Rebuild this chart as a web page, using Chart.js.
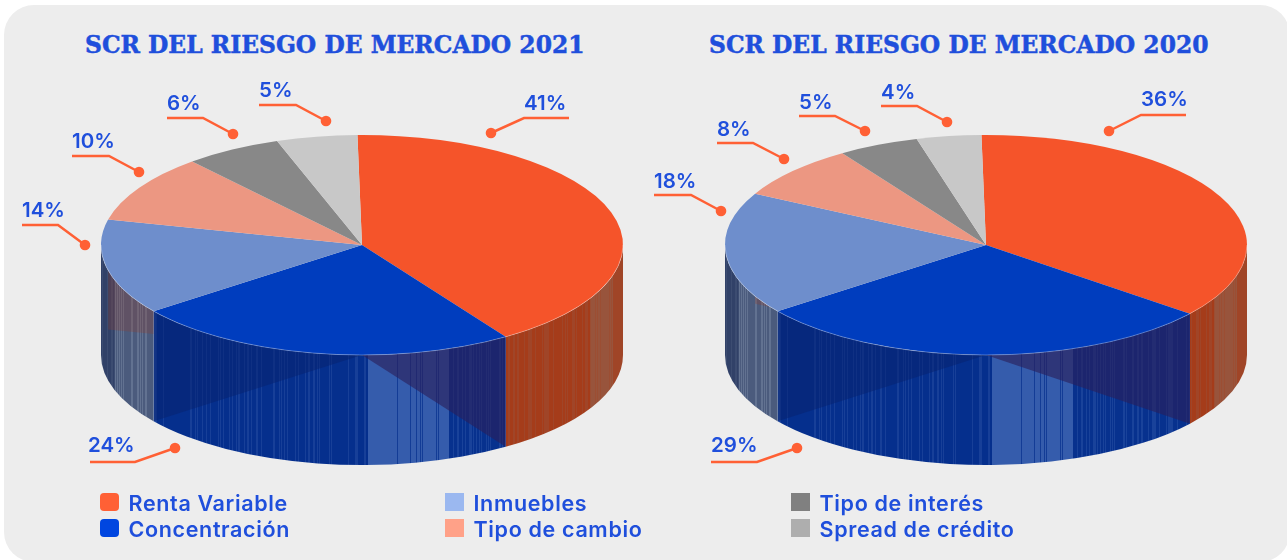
<!DOCTYPE html>
<html lang="es">
<head>
<meta charset="UTF-8">
<title>SCR del riesgo de mercado</title>
<script src="https://cdn.jsdelivr.net/npm/chart.js"></script>
<style>
  html, body { margin:0; width:1287px; height:560px; overflow:hidden; background:#fff; }
  .panel { position:absolute; left:4px; top:5px; width:1286px; height:557px; background:#ededed; border-radius:30px; }
  canvas { position:absolute; left:0; top:0; }
  h2 { position:absolute; margin:0; top:31px; color:#1f4fdc; font:bold 23.4px 'DejaVu Serif',serif; -webkit-text-stroke:0.5px #1f4fdc; white-space:nowrap; }
  .key { position:absolute; color:#1f4fdc; font:600 21.5px Inter,sans-serif; letter-spacing:0.65px; white-space:nowrap; line-height:26px; }
  .swatch { position:absolute; width:19px; height:18px; }
</style>
</head>
<body>
<div class="panel"></div>
<h2 id="title2021" style="left:85px"></h2>
<h2 id="title2020" style="left:709px"></h2>
<canvas id="pie2021" width="1287" height="560"></canvas>
<canvas id="pie2020" width="1287" height="560"></canvas>
<div id="legend"></div>
<script>
// datos
const categories = ['Renta Variable', 'Concentración', 'Inmuebles', 'Tipo de cambio', 'Tipo de interés', 'Spread de crédito'];
const values2021 = [41, 24, 14, 10, 6, 5];
const values2020 = [36, 29, 18, 8, 5, 4];
const titleText = 'SCR DEL RIESGO DE MERCADO ';

const sliceColors = ['#f5542a', '#003dbe', '#6e8ecc', '#ec9782', '#888888', '#c8c8c8'];
const legendColors = ['#ff6035', '#0046e0', '#9bb8f0', '#ffa188', '#808080', '#aeaeae'];

// colores de la pared lateral [oscuro, claro]
const wallColors = [[[166,58,24],[150,88,66]], [[4,46,140],[62,100,178]], [[44,60,100],[112,128,156]]];
// caras internas vistas a traves de la pared
const faceColors = ['rgba(42,30,90,0.62)', 'rgba(8,34,110,0.5)', 'rgba(150,60,40,0.28)'];
const faceClip = [1, 1, 2];

// etiquetas: punto, codo, fin de linea (coordenadas de pagina)
const callouts2021 = [
  {dot:[491,133], elbow:[524,118], end:569, text:524, base:110},
  {dot:[175,448], elbow:[135,462], end:90, text:88, base:452},
  {dot:[85,245], elbow:[58,225], end:22, text:22, base:217},
  {dot:[139,172], elbow:[109,156], end:72, text:72, base:148},
  {dot:[233,134], elbow:[203,118], end:167, text:167, base:110},
  {dot:[326,121], elbow:[296,105], end:259, text:259, base:97}
];
const callouts2020 = [
  {dot:[1109,131], elbow:[1141,115], end:1186, text:1141, base:106},
  {dot:[797,448], elbow:[757,462], end:711, text:711, base:452},
  {dot:[721,211], elbow:[691,195], end:654, text:654, base:188},
  {dot:[784,159], elbow:[753,143], end:717, text:717, base:136},
  {dot:[865,131], elbow:[835,116], end:799, text:799, base:109},
  {dot:[947,122], elbow:[917,106], end:881, text:881, base:99}
];

const tilt = 110 / 261;
const depth = 110;
const pieY = 245;

function mix(a, b, f) {
  f = Math.max(0, Math.min(1, f));
  return 'rgb(' + a.map((v, i) => Math.round(v + (b[i] - v) * f)).join(',') + ')';
}

// brillo del cilindro con rayas verticales finas, t va de -1 a 1
function sheen(t, k) {
  const h = Math.sin(k * 12.9898) * 43758.5453;
  const p = h - Math.floor(h);
  if (t < -0.95) return 0.08 + (p > 0.6 ? 0.15 : 0);
  if (t < -0.79) return 0.55 + (p > 0.6 ? 0.25 : -0.1);
  if (t < 0.02) return 0.02 + (p > 0.78 ? 0.3 : 0);
  if (t < 0.33) return p > 0.9 ? 0.25 : 0.85;
  if (t < 0.87) return 0.05 + (p > 0.72 ? 0.32 : 0);
  if (t < 0.96) return 0.85 + (p > 0.85 ? -0.2 : 0);
  return 0.35;
}

function wallGradient(ctx, cx, rx, pair) {
  const g = ctx.createLinearGradient(cx - rx, 0, cx + rx, 0);
  const n = Math.round(rx * 2);
  for (let k = 0; k < n; k++) {
    const c = mix(pair[0], pair[1], sheen(2 * k / n - 1, k));
    g.addColorStop(k / n, c);
    g.addColorStop((k + 1) / n, c);
  }
  return g;
}

function wallPath(ctx, cx, rx, ry, a, b) {
  ctx.beginPath();
  ctx.ellipse(cx, pieY, rx, ry, 0, a, b);
  ctx.ellipse(cx, pieY + depth, rx, ry, 0, b, a, true);
  ctx.closePath();
}

const pie3d = {
  id: 'pie3d',
  beforeDatasetsDraw(chart) {
    const ctx = chart.ctx;
    const arcs = chart.getDatasetMeta(0).data;
    const cx = arcs[0].x, rx = arcs[0].outerRadius, ry = rx * tilt;
    const range = i => [Math.max(arcs[i].startAngle, 0), Math.min(arcs[i].endAngle, Math.PI)];
    arcs.forEach((arc, i) => {
      const [a, b] = range(i);
      if (b <= a) return;
      wallPath(ctx, cx, rx, ry, a, b);
      ctx.fillStyle = wallGradient(ctx, cx, rx, wallColors[i] || wallColors[2]);
      ctx.fill();
    });
    faceColors.forEach((color, i) => {
      const ang = arcs[i].endAngle;
      const px = cx + rx * Math.cos(ang), py = pieY + ry * Math.sin(ang);
      const [a, b] = range(faceClip[i]);
      ctx.save();
      wallPath(ctx, cx, rx, ry, a, b);
      ctx.clip();
      ctx.beginPath();
      ctx.moveTo(cx, pieY);
      ctx.lineTo(px, py);
      ctx.lineTo(px, py + depth);
      ctx.lineTo(cx, pieY + depth);
      ctx.closePath();
      ctx.fillStyle = color;
      ctx.fill();
      ctx.restore();
    });
    // la tapa se aplasta en elipse
    ctx.save();
    ctx.translate(cx, pieY);
    ctx.scale(1, tilt);
    ctx.translate(-cx, -arcs[0].y);
  },
  afterDatasetsDraw(chart, args, opts) {
    const ctx = chart.ctx;
    ctx.restore();
    const arcs = chart.getDatasetMeta(0).data;
    const cx = arcs[0].x, rx = arcs[0].outerRadius;
    ctx.beginPath();
    ctx.ellipse(cx, pieY, rx, rx * tilt, 0, 0, Math.PI);
    ctx.strokeStyle = 'rgba(255,255,255,0.3)';
    ctx.lineWidth = 1;
    ctx.stroke();
    opts.callouts.forEach((c, i) => {
      ctx.beginPath();
      ctx.moveTo(c.dot[0], c.dot[1]);
      ctx.lineTo(c.elbow[0], c.elbow[1]);
      ctx.lineTo(c.end, c.elbow[1]);
      ctx.strokeStyle = '#ff6035';
      ctx.lineWidth = 2.5;
      ctx.stroke();
      ctx.beginPath();
      ctx.arc(c.dot[0], c.dot[1], 5.3, 0, Math.PI * 2);
      ctx.fillStyle = '#ff6035';
      ctx.fill();
      ctx.font = '600 20.5px Inter, sans-serif';
      ctx.fillStyle = '#1f4fdc';
      ctx.textAlign = 'left';
      ctx.fillText(chart.data.datasets[0].data[i] + '%', c.text, c.base);
    });
  }
};

function makePie(id, values, left, right, callouts) {
  return new Chart(document.getElementById(id), {
    type: 'pie',
    data: {
      labels: categories,
      datasets: [{ data: values, backgroundColor: sliceColors, borderWidth: 0, clip: false }]
    },
    options: {
      responsive: false,
      animation: false,
      rotation: -1,
      events: [],
      layout: { padding: { left: left, right: 1287 - right, top: 19, bottom: 19 } },
      plugins: {
        legend: { display: false },
        tooltip: { enabled: false },
        pie3d: { callouts: callouts }
      }
    },
    plugins: [pie3d]
  });
}

makePie('pie2021', values2021, 101, 623, callouts2021);
makePie('pie2020', values2020, 725, 1247, callouts2020);

// titulos
document.getElementById('title2021').textContent = titleText + '2021';
document.getElementById('title2020').textContent = titleText + '2020';

// leyenda
const legendX = [100, 100, 445, 445, 791, 791];
const legendY = [493, 519, 493, 519, 493, 519];
const legend = document.getElementById('legend');
categories.forEach((name, i) => {
  const s = document.createElement('div');
  s.className = 'swatch';
  s.style.cssText = 'left:' + legendX[i] + 'px;top:' + legendY[i] + 'px;background:' + legendColors[i] + ';border-radius:' + (i < 2 ? 4 : 0) + 'px';
  legend.appendChild(s);
  const t = document.createElement('div');
  t.className = 'key';
  t.textContent = name;
  t.style.cssText = 'left:' + (legendX[i] + 28.5) + 'px;top:' + (legendY[i] - 3) + 'px';
  legend.appendChild(t);
});
</script>
</body>
</html>
